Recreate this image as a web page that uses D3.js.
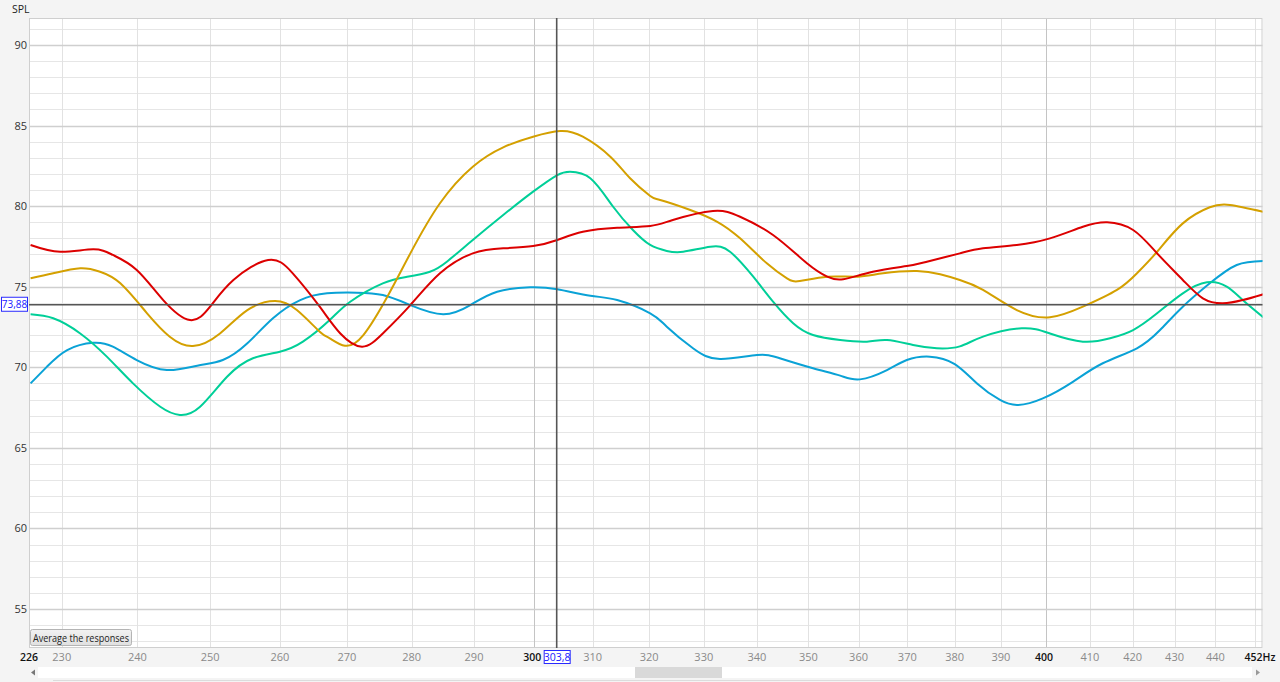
<!DOCTYPE html>
<html>
<head>
<meta charset="utf-8">
<script src="https://cdn.jsdelivr.net/npm/d3@7"></script>
<style>
  html, body { margin: 0; padding: 0; background: #f4f4f4; }
  svg { display: block; }
  text { font-family: "Open Sans", "Noto Sans", sans-serif; }
</style>
</head>
<body>
<svg id="chart" width="1280" height="682"></svg>
<script>
// ---------------- data ----------------
const xTicks = [230, 240, 250, 260, 270, 280, 290, 300, 310, 320, 330, 340, 350, 360, 370, 380, 390, 400, 410, 420, 430, 440];
const xBoldTicks = [300, 400];
const xExtraGrid = [450];
const xEndLabels = ["226", "452"];
const yTicks = [55, 60, 65, 70, 75, 80, 85, 90];
const cursorHz = 303.8;
const cursorSpl = 73.88;
const cursorHzLabel = "303,8";
const cursorSplLabel = "73,88";
const buttonLabel = "Average the responses";

const redHz  = [226, 229.8, 234.1, 236.7, 239.9, 243.5, 247.2, 250.0, 253.3, 258.3, 261.9, 265.9, 269.0, 272.3, 275.5, 279.8, 284.5, 289.8, 294.8, 299.8, 303.9, 308.3, 314.3, 320.2, 324.3, 331.7, 336.8, 343.1, 349.7, 353.7, 356.9, 362.9, 369.9, 374.1, 381.1, 386.1, 393.5, 400.9, 408.4, 414.0, 420.1, 425.8, 432.0, 436.9, 441.8, 446.8, 452];
const redSpl = [77.59, 77.17, 77.32, 76.97, 76.04, 74.17, 72.93, 73.76, 75.42, 76.66, 75.83, 73.76, 72.1, 71.28, 72.1, 73.86, 75.83, 77.07, 77.38, 77.52, 77.9, 78.41, 78.66, 78.77, 79.14, 79.7, 79.34, 78.21, 76.45, 75.62, 75.46, 75.93, 76.28, 76.55, 77.07, 77.38, 77.59, 78.0, 78.72, 79.0, 78.52, 77.07, 75.42, 74.28, 73.97, 74.17, 74.53];

const goldHz  = [226, 228.9, 232.4, 235.0, 237.7, 241.3, 244.4, 247.6, 251.4, 255.3, 259.3, 262.5, 265.9, 267.4, 269.7, 272.5, 276.2, 279.8, 284.5, 289.8, 294.8, 299.8, 304.4, 308.3, 313.1, 316.6, 320.2, 322.0, 327.5, 332.5, 336.8, 341.9, 345.8, 348.3, 353.7, 359.7, 365.0, 372.0, 376.9, 381.1, 386.1, 393.5, 400.9, 408.4, 416.3, 421.0, 425.8, 432.0, 438.6, 443.6, 452];
const goldSpl = [75.52, 75.83, 76.14, 75.93, 75.21, 73.35, 71.9, 71.32, 72.1, 73.55, 74.11, 73.55, 72.21, 71.8, 71.34, 72.0, 74.38, 77.07, 80.18, 82.45, 83.65, 84.31, 84.66, 84.31, 83.07, 81.73, 80.63, 80.38, 79.76, 79.03, 78.0, 76.45, 75.52, 75.35, 75.62, 75.62, 75.83, 75.97, 75.77, 75.42, 74.8, 73.55, 73.1, 73.76, 74.8, 75.83, 77.17, 78.93, 79.93, 80.07, 79.65];

const greenHz  = [226, 228.9, 232.4, 235.9, 239.4, 243.1, 245.8, 248.6, 252.4, 256.1, 260.0, 263.4, 267.4, 270.5, 275.5, 279.3, 282.9, 285.6, 289.8, 294.8, 299.8, 303.9, 306.1, 309.6, 313.6, 317.1, 320.2, 323.2, 326.2, 331.2, 334.9, 339.3, 343.1, 347.0, 350.9, 356.3, 361.7, 365.8, 371.2, 376.2, 381.1, 386.1, 394.6, 400.9, 408.4, 414.7, 420.1, 425.8, 432.0, 437.9, 442.8, 446.8, 452];
const greenSpl = [73.29, 73.04, 72.1, 70.66, 69.0, 67.55, 67.04, 67.55, 69.41, 70.56, 70.97, 71.59, 72.93, 74.07, 75.21, 75.62, 75.93, 76.55, 77.9, 79.45, 80.9, 81.93, 82.14, 81.73, 79.96, 78.52, 77.59, 77.22, 77.17, 77.48, 77.17, 75.62, 74.07, 72.73, 72.0, 71.69, 71.59, 71.69, 71.38, 71.18, 71.3, 71.9, 72.42, 72.1, 71.59, 71.8, 72.31, 73.35, 74.59, 75.27, 75.0, 74.17, 73.1];

const blueHz  = [226, 228.1, 230.7, 234.1, 236.7, 239.9, 244.0, 248.2, 251.8, 255.3, 259.0, 263.0, 267.0, 271.5, 275.5, 279.8, 285.0, 289.4, 293.8, 299.3, 303.9, 309.6, 314.3, 320.2, 323.2, 328.0, 333.0, 340.0, 344.4, 350.9, 356.3, 360.3, 365.8, 369.9, 374.7, 380.0, 384.8, 389.8, 393.8, 399.3, 406.1, 413.0, 421.0, 426.5, 432.0, 438.6, 445.3, 452];
const blueSpl = [69.0, 70.04, 71.07, 71.52, 71.28, 70.45, 69.83, 70.1, 70.45, 71.49, 73.04, 74.17, 74.59, 74.63, 74.48, 73.86, 73.29, 73.86, 74.69, 74.96, 74.84, 74.44, 74.17, 73.35, 72.52, 71.18, 70.51, 70.76, 70.56, 69.94, 69.48, 69.25, 69.83, 70.45, 70.66, 70.2, 69.0, 67.97, 67.66, 68.07, 69.1, 70.25, 71.18, 72.31, 73.76, 75.21, 76.35, 76.6];

const seriesNames  = ["red", "gold", "green", "blue"];
const seriesColors = ["#dc0000", "#d4a000", "#00cf98", "#0aa2d6"];

// ---------------- layout ----------------
const svg = d3.select("#chart");
const plot = { left: 29, top: 18, right: 1262.5, bottom: 648 };

const x = d3.scaleLog().domain([225.8, 451.8]).range([plot.left, plot.right]);
const y = d3.scaleLinear().domain([52.58, 91.675]).range([plot.bottom, plot.top]);

svg.append("rect").attr("x", 0).attr("y", 0).attr("width", 1280).attr("height", 682).attr("fill", "#f4f4f4");
svg.append("rect")
  .attr("x", plot.left).attr("y", plot.top)
  .attr("width", plot.right - plot.left).attr("height", plot.bottom - plot.top)
  .attr("fill", "#ffffff");

const grid = svg.append("g");
const minorY = d3.range(53, 92, 1).filter(v => v % 5 !== 0);
grid.selectAll("line.hmin").data(minorY).join("line")
  .attr("x1", plot.left).attr("x2", plot.right)
  .attr("y1", d => Math.round(y(d)) + 0.5).attr("y2", d => Math.round(y(d)) + 0.5)
  .attr("stroke", "#e6e6e6").attr("stroke-width", 1);
grid.selectAll("line.v").data(xTicks.concat(xExtraGrid)).join("line")
  .attr("x1", d => Math.round(x(d)) + 0.5).attr("x2", d => Math.round(x(d)) + 0.5)
  .attr("y1", plot.top).attr("y2", plot.bottom)
  .attr("stroke", d => xBoldTicks.includes(d) ? "#c4c4c4" : "#e2e2e2")
  .attr("stroke-width", 1);
grid.selectAll("line.hmaj").data(yTicks).join("line")
  .attr("x1", plot.left).attr("x2", plot.right)
  .attr("y1", d => Math.round(y(d)) + 0.5).attr("y2", d => Math.round(y(d)) + 0.5)
  .attr("stroke", "#cfcfcf").attr("stroke-width", 1.3);

svg.append("rect")
  .attr("x", plot.left + 0.5).attr("y", plot.top + 0.5)
  .attr("width", plot.right - plot.left - 1).attr("height", plot.bottom - plot.top - 1)
  .attr("fill", "none").attr("stroke", "#cfcfcf");

// y axis labels
svg.selectAll("text.yt").data(yTicks).join("text")
  .attr("x", 27).attr("y", d => y(d) + 4)
  .attr("text-anchor", "end").attr("font-size", 11).attr("fill", "#333")
  .text(d => d);
svg.append("text").attr("x", 12).attr("y", 13).attr("font-size", 10.5).attr("fill", "#222").text("SPL");

// x axis labels
svg.selectAll("text.xt").data(xTicks).join("text")
  .attr("x", d => xBoldTicks.includes(d) ? x(d) - 2 : x(d)).attr("y", 661)
  .attr("text-anchor", "middle").attr("font-size", d => xBoldTicks.includes(d) ? 10.5 : 11)
  .attr("fill", d => xBoldTicks.includes(d) ? "#111" : "#8a8a8a")
  .attr("font-weight", d => xBoldTicks.includes(d) ? 600 : 400)
  .text(d => d);
svg.append("text").attr("x", x.range()[0]).attr("y", 661).attr("text-anchor", "middle")
  .attr("font-size", 10.5).attr("font-weight", 600).attr("fill", "#111").text(xEndLabels[0]);
svg.append("text").attr("x", x.range()[1]).attr("y", 661).attr("text-anchor", "end")
  .attr("font-size", 10.5).attr("font-weight", 600).attr("fill", "#111").text(xEndLabels[1]);
svg.append("text").attr("x", x.range()[1]).attr("y", 661).attr("text-anchor", "start")
  .attr("font-size", 10.5).attr("font-weight", 600).attr("fill", "#111").text("Hz");

// curves
svg.append("clipPath").attr("id", "pc").append("rect")
  .attr("x", plot.left).attr("y", plot.top)
  .attr("width", plot.right - plot.left).attr("height", plot.bottom - plot.top);

const seriesData = [
  d3.zip(redHz, redSpl),
  d3.zip(goldHz, goldSpl),
  d3.zip(greenHz, greenSpl),
  d3.zip(blueHz, blueSpl)
];
const line = d3.line().x(d => x(d[0])).y(d => y(d[1])).curve(d3.curveNatural);
const curves = svg.append("g").attr("clip-path", "url(#pc)");
[3, 2, 1, 0].forEach(i => {
  curves.append("path").datum(seriesData[i])
    .attr("d", line).attr("fill", "none")
    .attr("stroke", seriesColors[i]).attr("stroke-width", 2)
    .attr("stroke-linejoin", "round")
    .attr("class", seriesNames[i]);
});

// crosshair
const cx = x(cursorHz), cy = y(cursorSpl);
svg.append("line").attr("x1", plot.left).attr("x2", plot.right).attr("y1", cy).attr("y2", cy)
  .attr("stroke", "#555").attr("stroke-width", 1.6);
svg.append("line").attr("x1", cx).attr("x2", cx).attr("y1", plot.top).attr("y2", plot.bottom)
  .attr("stroke", "#555").attr("stroke-width", 1.6);

// cursor value boxes
svg.append("rect").attr("x", 1.5).attr("y", cy - 7.5).attr("width", 26).attr("height", 14)
  .attr("fill", "#fff").attr("stroke", "#2a2aff").attr("stroke-width", 1);
svg.append("text").attr("x", 14.5).attr("y", cy + 3.5).attr("text-anchor", "middle")
  .attr("font-size", 10).attr("fill", "#1a1aff").text(cursorSplLabel);
svg.append("rect").attr("x", cx - 12.5).attr("y", 650.5).attr("width", 26).attr("height", 13)
  .attr("fill", "#fff").attr("stroke", "#2a2aff").attr("stroke-width", 1);
svg.append("text").attr("x", cx + 0.5).attr("y", 661).attr("text-anchor", "middle")
  .attr("font-size", 10.5).attr("fill", "#1a1aff").text(cursorHzLabel);

// button
const btnGrad = svg.append("defs").append("linearGradient").attr("id", "btng").attr("x1", 0).attr("x2", 0).attr("y1", 0).attr("y2", 1);
btnGrad.append("stop").attr("offset", "0%").attr("stop-color", "#f2f2f2");
btnGrad.append("stop").attr("offset", "100%").attr("stop-color", "#e0e0e0");
svg.append("rect").attr("x", 30.5).attr("y", 629.5).attr("width", 101).attr("height", 16).attr("rx", 2)
  .attr("fill", "url(#btng)").attr("stroke", "#b4b4b4");
svg.append("text").attr("x", 81).attr("y", 641.5).attr("text-anchor", "middle")
  .attr("font-size", 10.5).attr("fill", "#222").attr("textLength", 96).attr("lengthAdjust", "spacingAndGlyphs")
  .text(buttonLabel);

// scrollbar
svg.append("rect").attr("x", 38).attr("y", 667).attr("width", 1214).attr("height", 11).attr("fill", "#ffffff");
svg.append("rect").attr("x", 635).attr("y", 667).attr("width", 87).attr("height", 11).attr("fill", "#d9d9d9");
svg.append("line").attr("x1", 53).attr("x2", 1220).attr("y1", 680.5).attr("y2", 680.5).attr("stroke", "#dcdcdc");
svg.append("path").attr("d", "M35,669.5 L31,672.5 L35,675.5 Z").attr("fill", "#777");
svg.append("path").attr("d", "M1256,669.5 L1260,672.5 L1256,675.5 Z").attr("fill", "#999");
</script>
</body>
</html>
